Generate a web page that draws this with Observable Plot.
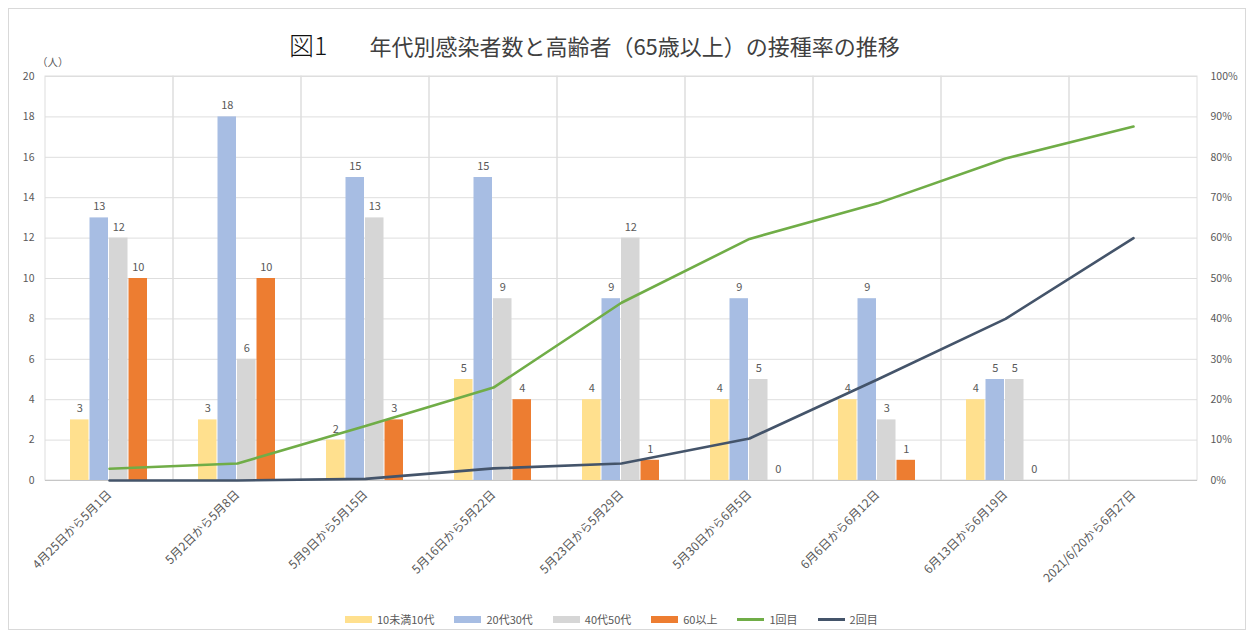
<!DOCTYPE html>
<html><head><meta charset="utf-8">
<script src="https://cdn.jsdelivr.net/npm/d3@7"></script>
<script src="https://cdn.jsdelivr.net/npm/@observablehq/plot@0.6"></script>
<style>
body{margin:0;background:#fff;font-family:"Noto Sans CJK JP","Noto Sans",sans-serif;}
#wrap{position:relative;width:1250px;height:636px;overflow:hidden;background:#fff;}
#border{position:absolute;left:8px;top:8px;width:1238px;height:622px;border:1px solid #d9d9d9;box-sizing:border-box;}
#title{position:absolute;top:26px;left:289px;white-space:nowrap;color:#404040;}
#title .fig{font-size:25px;color:#111;margin-right:42px;font-family:"Noto Sans CJK JP",sans-serif;font-weight:300;}
#title .main{font-size:22px;letter-spacing:0px;}
#unit{position:absolute;left:37px;top:54px;font-size:10.5px;color:#595959;}
#chart{position:absolute;left:0;top:60px;}
#legend{position:absolute;left:345px;top:611px;display:flex;align-items:center;font-size:11px;color:#595959;}
#legend .item{display:flex;align-items:center;margin-right:20px;}
#legend .sw{width:27px;height:7px;margin-right:5px;}
#legend .ln{width:27px;height:3px;margin-right:5px;}
</style></head><body>
<div id="wrap">
<div id="border"></div>
<div id="title"><span class="fig">図1</span><span class="main">年代別感染者数と高齢者（65歳以上）の接種率の推移</span></div>
<div id="unit">（人）</div>
<div id="chart"></div>
<div id="legend"></div>
</div>
<script>
const categories = ["4月25日から5月1日","5月2日から5月8日","5月9日から5月15日","5月16日から5月22日","5月23日から5月29日","5月30日から6月5日","6月6日から6月12日","6月13日から6月19日","2021/6/20から6月27日"];
const seriesNames = ["10未満10代","20代30代","40代50代","60以上"];
const under10s = [3,3,2,5,4,4,4,4];
const age2030 = [13,18,15,15,9,9,9,5];
const age4050 = [12,6,13,9,12,5,3,5];
const age60plus = [10,10,3,4,1,0,1,0];
const lineNames = ["1回目","2回目"];
const dose1 = [2.9,4.2,13.5,23,44,59.8,68.6,79.7,87.6];
const dose2 = [0,0,0.4,3,4.2,10.4,25,40,60];
const leftTicks = [0,2,4,6,8,10,12,14,16,18,20];
const rightTickLabels = ["0%","10%","20%","30%","40%","50%","60%","70%","80%","90%","100%"];
const barColors = ["#FFE08E","#A7BDE3","#D6D6D6","#ED7D31"];
const lineColors = ["#70AD47","#44546A"];

const W = 1250, H = 550, ML = 45, MR = 53, MT = 16, MB = 130;
const bw = (W - ML - MR) / categories.length;
const barW = 18.5, step = 19.5, firstLeft = 25;

const seriesValues = [under10s, age2030, age4050, age60plus];
const barMarks = [];
seriesValues.forEach((vals, s) => {
  const rows = vals.map((v, i) => ({cat: categories[i], v}));
  const left = firstLeft + step * s;
  barMarks.push(Plot.barY(rows, {x: "cat", y: "v", fill: barColors[s], insetLeft: left, insetRight: bw - left - barW}));
});
const labelMarks = [];
seriesValues.forEach((vals, s) => {
  const rows = vals.map((v, i) => ({cat: categories[i], v}));
  const left = firstLeft + step * s;
  labelMarks.push(Plot.text(rows, {x: "cat", y: "v", text: d => String(d.v), dx: left + barW / 2 - bw / 2, dy: -11, fill: "#595959", fontSize: 11}));
});
const lineRows = [dose1, dose2].map((vals, k) => vals.map((p, i) => ({cat: categories[i], p, k})));

const chart = Plot.plot({
  width: W, height: H,
  marginLeft: ML, marginRight: MR, marginTop: MT, marginBottom: MB,
  style: {fontFamily: '"Noto Sans CJK JP","Noto Sans",sans-serif', fontSize: "11px", color: "#595959", background: "transparent"},
  x: {type: "band", domain: categories, padding: 0, paddingInner: 0, paddingOuter: 0},
  y: {domain: [0, 20]},
  marks: [
    Plot.gridY(leftTicks, {stroke: "#dedede", strokeOpacity: 1}),
    Plot.cell(categories, {x: d => d, fill: "none", stroke: "#dedede"}),
    ...barMarks,
    Plot.ruleY([0], {stroke: "#c6c6c6"}),
    ...lineRows.map((rows, k) => Plot.line(rows, {x: "cat", y: d => d.p * 20 / 100, stroke: lineColors[k], strokeWidth: 2.6, curve: "linear", strokeLinejoin: "round"})),
    ...labelMarks,
    Plot.axisY(leftTicks, {anchor: "left", tickSize: 0, tickPadding: 11, label: null, fontSize: 10.5}),
    Plot.axisY(leftTicks, {anchor: "right", tickSize: 0, tickPadding: 13, label: null, fontSize: 10.5, tickFormat: d => rightTickLabels[leftTicks.indexOf(d)]}),
    Plot.axisX({tickRotate: -45, tickSize: 0, tickPadding: 12, label: null, fontSize: 12})
  ]
});
document.getElementById("chart").appendChild(chart);

const legend = document.getElementById("legend");
seriesNames.forEach((n, s) => {
  const it = document.createElement("div"); it.className = "item";
  it.innerHTML = `<div class="sw" style="background:${barColors[s]}"></div><span>${n}</span>`;
  legend.appendChild(it);
});
lineNames.forEach((n, k) => {
  const it = document.createElement("div"); it.className = "item";
  it.innerHTML = `<div class="ln" style="background:${lineColors[k]}"></div><span>${n}</span>`;
  legend.appendChild(it);
});
</script>
</body></html>
